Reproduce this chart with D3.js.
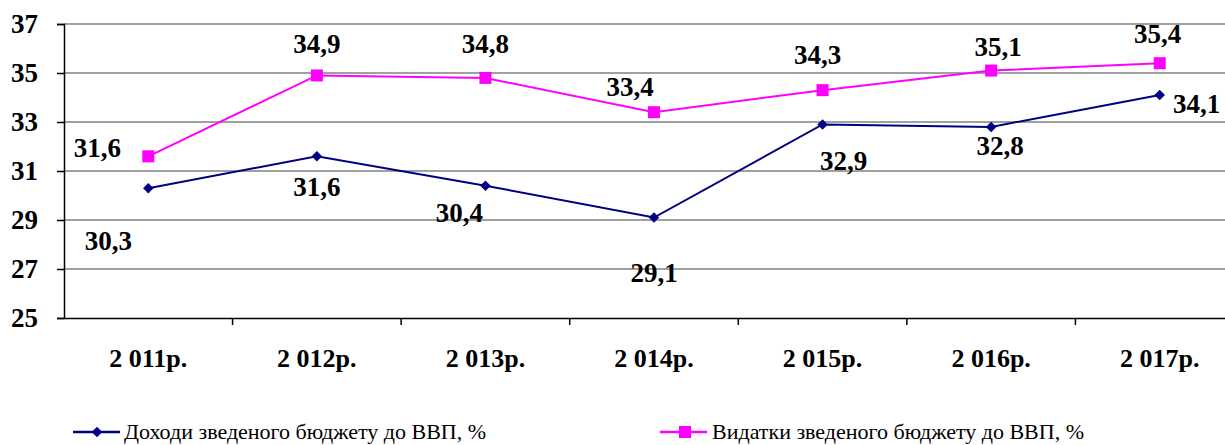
<!DOCTYPE html>
<html><head><meta charset="utf-8">
<script src="https://cdn.jsdelivr.net/npm/d3@7"></script>
<style>body{margin:0;background:#fff}svg{display:block}</style>
</head><body>
<svg id="c" width="1225" height="445" font-family="Liberation Serif"></svg>
<script>
const categories = ["2 011р.","2 012р.","2 013р.","2 014р.","2 015р.","2 016р.","2 017р."];
const incomeValues = [30.3, 31.6, 30.4, 29.1, 32.9, 32.8, 34.1];
const spendingValues = [31.6, 34.9, 34.8, 33.4, 34.3, 35.1, 35.4];
const incomeLabels = ["30,3","31,6","30,4","29,1","32,9","32,8","34,1"];
const spendingLabels = ["31,6","34,9","34,8","33,4","34,3","35,1","35,4"];
const yTicks = [25, 27, 29, 31, 33, 35, 37];
const seriesNames = ["Доходи зведеного бюджету до ВВП, %", "Видатки зведеного бюджету до ВВП, %"];

// label offsets (style)
const incomeOff = [[-40,62],[0,40],[-26,36],[0,64],[21,46],[9,28],[37,18]];
const spendingOff = [[-51,1],[0,-22],[0,-25],[-24,-16],[-5,-26],[7,-15],[-2,-20]];

const FONT = "Liberation Serif";
const svg = d3.select("#c");
const L = 64, R = 1244, T = 24, B = 318;
const x = d3.scaleBand().domain(categories).range([L, R]);
const y = d3.scaleLinear().domain([25, 37]).range([B, T]);

function txt(sel, size, bold) {
  return sel.attr("font-family", FONT).style("font-family", FONT)
    .attr("font-size", size).style("font-size", size + "px")
    .style("font-weight", bold ? "bold" : "normal").attr("fill", "#000");
}

// grid
svg.append("g").selectAll("line").data(yTicks.filter(d => d > 25)).join("line")
  .attr("x1", L).attr("x2", R).attr("y1", d => y(d)).attr("y2", d => y(d))
  .attr("stroke", "#808080").attr("stroke-width", 1.5);

// y axis (lines from d3 axis, labels drawn separately)
const ya = svg.append("g").attr("transform", `translate(${L},0)`)
  .call(d3.axisLeft(y).tickValues(yTicks).tickSize(7).tickFormat(""));
ya.attr("font-family", null).attr("font-size", null);
ya.select(".domain").attr("stroke", "#000").attr("stroke-width", 1.5);
ya.selectAll(".tick line").attr("stroke", "#000").attr("stroke-width", 1.5);
yTicks.forEach(v => {
  txt(svg.append("text"), 27, true).attr("x", 38).attr("y", y(v) + 9)
    .attr("text-anchor", "end").text(v);
});

// x axis
const xa = svg.append("g").attr("transform", `translate(0,${B})`)
  .call(d3.axisBottom(x).tickSize(0).tickFormat(""));
xa.attr("font-family", null).attr("font-size", null);
xa.select(".domain").attr("stroke", "#000").attr("stroke-width", 1.5);
svg.append("g").selectAll("line").data(categories.slice(1)).join("line")
  .attr("x1", d => x(d)).attr("x2", d => x(d)).attr("y1", B).attr("y2", B + 7)
  .attr("stroke", "#000").attr("stroke-width", 1.5);

const cx = d => x(d) + x.bandwidth() / 2;
categories.forEach(c => {
  txt(svg.append("text"), 26, true).attr("x", cx(c)).attr("y", B + 49)
    .attr("text-anchor", "middle").text(c);
});

const line = d3.line().x(d => cx(d[0])).y(d => y(d[1]));
const inc = categories.map((c, i) => [c, incomeValues[i]]);
const spd = categories.map((c, i) => [c, spendingValues[i]]);

svg.append("path").datum(spd).attr("d", line).attr("fill", "none")
  .attr("stroke", "#ff00ff").attr("stroke-width", 2);
svg.append("path").datum(inc).attr("d", line).attr("fill", "none")
  .attr("stroke", "#000080").attr("stroke-width", 2);

svg.append("g").selectAll("rect").data(spd).join("rect")
  .attr("x", d => cx(d[0]) - 6).attr("y", d => y(d[1]) - 6)
  .attr("width", 12).attr("height", 12).attr("fill", "#ff00ff");
const diamond = d3.symbol().type(d3.symbolDiamond2).size(70);
svg.append("g").selectAll("path").data(inc).join("path")
  .attr("d", diamond).attr("transform", d => `translate(${cx(d[0])},${y(d[1])})`)
  .attr("fill", "#000080");

function labels(data, texts, offs) {
  data.forEach((d, i) => {
    txt(svg.append("text"), 27, true)
      .attr("x", cx(d[0]) + offs[i][0]).attr("y", y(d[1]) + offs[i][1])
      .attr("text-anchor", "middle").text(texts[i]);
  });
}
labels(spd, spendingLabels, spendingOff);
labels(inc, incomeLabels, incomeOff);

// legend
const lg = [
  {x1: 73, x2: 120, mx: 97, color: "#000080", shape: "diamond", tx: 124},
  {x1: 660, x2: 707, mx: 685, color: "#ff00ff", shape: "square", tx: 712}
];
const ly = 432;
lg.forEach((g, i) => {
  svg.append("line").attr("x1", g.x1).attr("x2", g.x2).attr("y1", ly).attr("y2", ly)
    .attr("stroke", g.color).attr("stroke-width", 2.5);
  if (g.shape === "diamond") {
    svg.append("path").attr("d", diamond).attr("transform", `translate(${g.mx},${ly})`).attr("fill", g.color);
  } else {
    svg.append("rect").attr("x", g.mx - 6).attr("y", ly - 6).attr("width", 12).attr("height", 12).attr("fill", g.color);
  }
  txt(svg.append("text"), 22, false).attr("x", g.tx).attr("y", ly + 7).text(seriesNames[i]);
});
</script>
</body></html>
